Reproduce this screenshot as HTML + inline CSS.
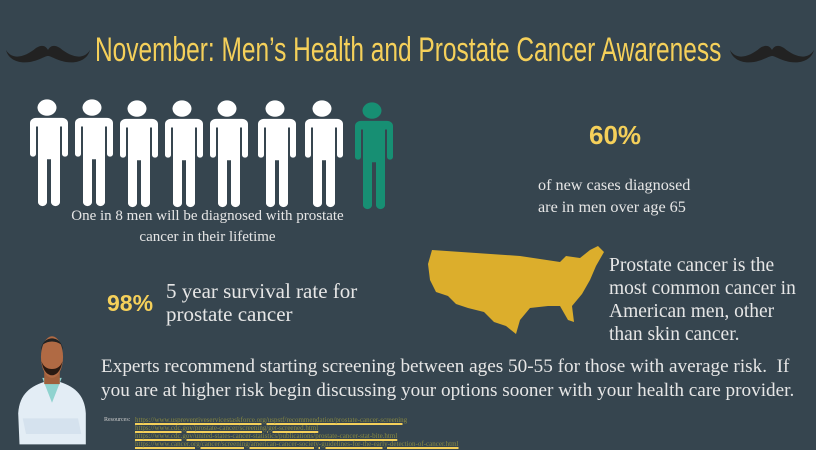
<!DOCTYPE html><html><head><style>
body{margin:0;width:816px;height:450px;background:#36454f;overflow:hidden;position:relative;font-family:"Liberation Serif",serif;color:#e6e6e6}
.a{position:absolute}
.t{left:95px;top:31px;font-family:"Liberation Sans",sans-serif;font-size:34px;color:#f5d05a;white-space:nowrap;transform:scaleX(0.72);transform-origin:0 0}
.y{color:#f5d05a;font-family:"Liberation Sans",sans-serif;font-weight:bold}
</style></head><body>
<svg class="a" style="left:0;top:0" width="816" height="450">
<defs>
<g id="m"><path d="M0,14 C6,24 18,22 30,12 C36,8 40,10 42,14 C44,10 48,8 54,12 C66,22 78,24 84,14 C82,22 74,28 60,26 C50,24 45,20 42,20 C39,20 34,24 24,26 C10,28 2,22 0,14Z" fill="#222"/></g>
<g id="p"><circle cx="21" cy="10" r="9.5"/><path d="M6,22 h30 a6,6 0 0 1 6,6 v36 a3,3 0 0 1 -6,0 v-32 h-2 v88 a4.5,4.5 0 0 1 -9,0 v-50 h-4 v50 a4.5,4.5 0 0 1 -9,0 v-88 h-2 v32 a3,3 0 0 1 -6,0 v-36 a6,6 0 0 1 6,-6z"/></g>
</defs>
<use href="#m" x="6" y="36"/><use href="#m" x="730" y="36"/>
<g fill="#fff">
<use href="#p" transform="translate(26,99) scale(1,0.86)"/><use href="#p" transform="translate(71,99) scale(1,0.86)"/><use href="#p" transform="translate(116,100) scale(1,0.86)"/><use href="#p" transform="translate(161,100) scale(1,0.86)"/><use href="#p" transform="translate(206,100) scale(1,0.86)"/><use href="#p" transform="translate(254,100) scale(1,0.86)"/><use href="#p" transform="translate(301,100) scale(1,0.86)"/>
</g>
<use href="#p" transform="translate(351,102) scale(1,0.86)" fill="#178f73"/>
<path fill="#dcae2c" d="M432,250 L520,256 L560,262 L566,256 L580,258 L590,250 L598,246 L604,252 L596,266 L590,280 L582,294 L572,306 L574,322 L568,320 L560,306 L548,306 L530,308 L520,320 L516,334 L506,326 L494,322 L484,312 L468,308 L456,304 L448,296 L436,292 L430,280 L428,264 Z"/>
<g transform="translate(13,330) scale(0.65,1.04)">
<path d="M10,110 L8,80 C10,60 30,52 60,48 C90,52 110,60 112,80 L112,110Z" fill="#e3edf5"/>
<path d="M45,46 L60,70 L75,46 Z" fill="#8fd3cf"/>
<rect x="48" y="38" width="24" height="14" fill="#a0603c"/>
<ellipse cx="60" cy="26" rx="17" ry="20" fill="#b06a44"/>
<path d="M43,20 C44,4 76,4 77,20 L74,14 C66,10 54,10 46,14Z" fill="#222"/>
<path d="M44,30 C48,48 72,48 76,30 C72,40 48,40 44,30Z" fill="#2a1a12"/>
<path d="M15,85 L100,85 L105,100 L20,100Z" fill="#d5e2ee"/>
</g>
</svg>
<div class="a t">November: Men’s Health and Prostate Cancer Awareness</div>
<div class="a" style="left:55px;top:206px;width:305px;text-align:center;font-size:15px;line-height:21px">One in 8 men will be diagnosed with prostate cancer in their lifetime</div>
<div class="a y" style="left:589px;top:120px;font-size:26px">60%</div>
<div class="a" style="left:538px;top:174px;font-size:16.2px;line-height:22px">of new cases diagnosed<br>are in men over age 65</div>
<div class="a y" style="left:107px;top:290px;font-size:23px">98%</div>
<div class="a" style="left:166px;top:280px;font-size:21px;line-height:23px">5 year survival rate for<br>prostate cancer</div>
<div class="a" style="left:609px;top:254px;font-size:19.5px;line-height:23px">Prostate cancer is the<br>most common cancer in<br>American men, other<br>than skin cancer.</div>
<div class="a" style="left:101px;top:355px;font-size:19.2px;line-height:24px;white-space:nowrap">Experts recommend starting screening between ages 50-55 for those with average risk.&nbsp; If<br>you are at higher risk begin discussing your options sooner with your health care provider.</div>
<div class="a" style="left:104px;top:417px;font-size:6px;color:#ccc">Resources:</div>
<div class="a" style="left:135px;top:416px;font-size:7px;line-height:8px;color:#8a8a40;text-decoration:underline;text-decoration-color:#f5d05a;text-decoration-thickness:2px;white-space:nowrap">https://www.uspreventiveservicestaskforce.org/uspstf/recommendation/prostate-cancer-screening<br>https://www.cdc.gov/prostate-cancer/screening/get-screened.html<br>https://www.cdc.gov/united-states-cancer-statistics/publications/prostate-cancer-stat-bite.html<br>https://www.cancer.org/cancer/screening/american-cancer-society-guidelines-for-the-early-detection-of-cancer.html</div>
</body></html>
